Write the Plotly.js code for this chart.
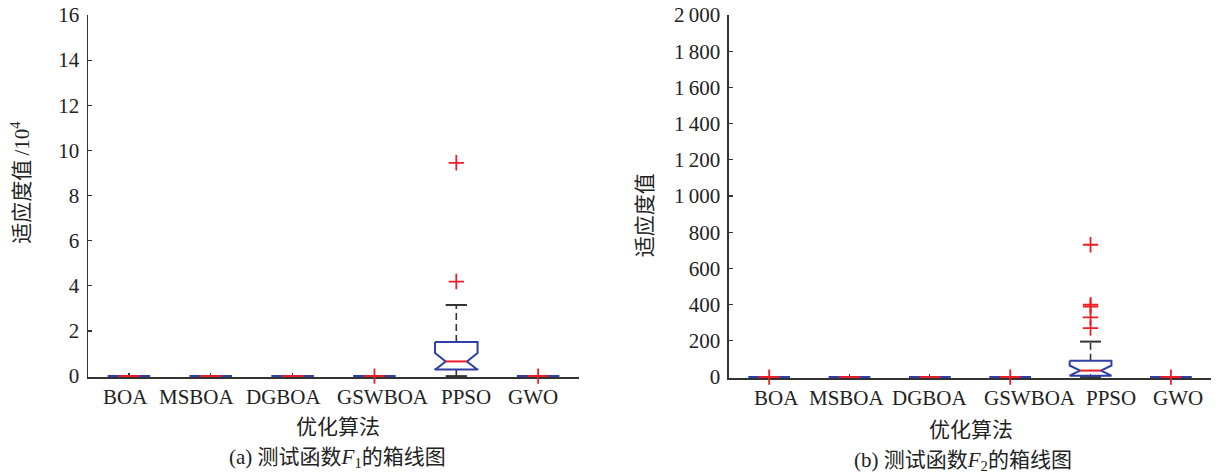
<!DOCTYPE html>
<html>
<head>
<meta charset="utf-8">
<script src="https://cdn.plot.ly/plotly-3.0.1.min.js"></script>
<style>html,body{margin:0;padding:0;background:#fff;}#chart{width:1231px;height:474px;}</style>
</head>
<body>
<div id="chart"></div>
<script>
// ---------- data ----------
const categories = ['BOA', 'MSBOA', 'DGBOA', 'GSWBOA', 'PPSO', 'GWO'];

// (a) F1, unit 10^4
const f1Q1     = [0, 0, 0, 0, 0.29, 0];
const f1Median = [0, 0, 0, 0, 0.65, 0];
const f1Q3     = [0, 0, 0, 0, 1.51, 0];
const f1Lower  = [0, 0, 0, 0, 0, 0];
const f1Upper  = [0, 0, 0, 0, 3.15, 0];
const f1Notch  = [0, 0, 0, 0, 0.37, 0];
const f1Outliers = [[], [], [], [0], [4.19, 9.45], [0]];

// (b) F2
const f2Q1     = [0, 0, 0, 0, 8, 0];
const f2Median = [0, 0, 0, 0, 36, 0];
const f2Q3     = [0, 0, 0, 0, 91, 0];
const f2Lower  = [0, 0, 0, 0, 0, 0];
const f2Upper  = [0, 0, 0, 0, 196, 0];
const f2Notch  = [0, 0, 0, 0, 28, 0];
const f2Outliers = [[0], [], [], [0], [271, 330, 390, 400, 731], [0]];

const f1Ticks = [0, 2, 4, 6, 8, 10, 12, 14, 16];
const f2Ticks = [0, 200, 400, 600, 800, 1000, 1200, 1400, 1600, 1800, 2000];

// ---------- style ----------
const BLUE = '#2f3fa6', RED = '#ee1c25', BLACK = '#333333';
const HW = 0.26, NW = 0.13, CW = 0.13;
const FONT = 'Liberation Serif, Times New Roman, Noto Sans CJK SC, serif';
const FS = 21;
// pixel nudges of the category labels, as typeset in the source figure
const f1LabelShift = [-3, -14, -9, 9, 10, -5];
const f2LabelShift = [7, -3, 0, 20, 20, 7];

function boxTraces(q1, med, q3, lo, up, notch, outl, xa, ya) {
  const tr = [];
  const wx = [], wy = [], cx = [], cy = [], bx = [], by = [], mx = [], my = [], ox = [], oy = [];
  categories.forEach((c, i) => {
    const x = i + 1;
    wx.push(x, x, null, x, x, null);
    wy.push(q3[i], up[i], null, q1[i], lo[i], null);
    cx.push(x - CW, x + CW, null, x - CW, x + CW, null);
    cy.push(up[i], up[i], null, lo[i], lo[i], null);
    const m = med[i], n = notch[i];
    bx.push(x - HW, x + HW, x + HW, x + NW, x + HW, x + HW, x - HW, x - HW, x - NW, x - HW, x - HW, null);
    by.push(q3[i], q3[i], m + n, m, m - n, q1[i], q1[i], m - n, m, m + n, q3[i], null);
    mx.push(x - NW, x + NW, null);
    my.push(m, m, null);
    outl[i].forEach(v => { ox.push(x); oy.push(v); });
  });
  tr.push({type: 'scatter', mode: 'lines', x: wx, y: wy, xaxis: xa, yaxis: ya,
           line: {color: BLACK, width: 1.6, dash: '7px,4px'}, hoverinfo: 'skip', showlegend: false});
  tr.push({type: 'scatter', mode: 'lines', x: cx, y: cy, xaxis: xa, yaxis: ya,
           line: {color: BLACK, width: 2}, hoverinfo: 'skip', showlegend: false});
  tr.push({type: 'scatter', mode: 'lines', x: bx, y: by, xaxis: xa, yaxis: ya,
           line: {color: BLUE, width: 2}, hoverinfo: 'skip', showlegend: false});
  tr.push({type: 'scatter', mode: 'lines', x: mx, y: my, xaxis: xa, yaxis: ya,
           line: {color: RED, width: 2}, hoverinfo: 'skip', showlegend: false});
  tr.push({type: 'scatter', mode: 'markers', x: ox, y: oy, xaxis: xa, yaxis: ya, cliponaxis: false,
           marker: {symbol: 'cross-thin', size: 11, color: RED, line: {color: RED, width: 1.8}},
           hoverinfo: 'skip', showlegend: false});
  return tr;
}

function catLabels(xref, yref, shifts) {
  return categories.map((c, i) => ({
    text: c, xref: xref, yref: yref + ' domain', x: i + 1, y: 0,
    xanchor: 'center', yanchor: 'middle', xshift: shifts[i], yshift: -20,
    showarrow: false, font: {family: FONT, size: FS, color: '#222'}
  }));
}

const data = [].concat(
  boxTraces(f1Q1, f1Median, f1Q3, f1Lower, f1Upper, f1Notch, f1Outliers, 'x', 'y'),
  boxTraces(f2Q1, f2Median, f2Q3, f2Lower, f2Upper, f2Notch, f2Outliers, 'x2', 'y2')
);

const xCommon = {
  range: [0.5, 6.5], tickmode: 'array', tickvals: [1, 2, 3, 4, 5, 6], showticklabels: false,
  ticks: 'inside', ticklen: 4, tickwidth: 1.2, tickcolor: BLACK,
  showline: true, linecolor: BLACK, linewidth: 1.5, mirror: false,
  showgrid: false, zeroline: false, layer: 'below traces', fixedrange: true
};
const yCommon = {
  ticks: 'inside', ticklen: 4, tickwidth: 1.2, tickcolor: BLACK, tickmode: 'array',
  showline: true, linecolor: BLACK, linewidth: 1.5, mirror: false,
  showgrid: false, zeroline: false, layer: 'below traces', ticklabelstandoff: 3,
  tickfont: {family: FONT, size: FS, color: '#222'}, fixedrange: true
};

const layout = {
  width: 1231, height: 474,
  margin: {l: 0, r: 0, t: 0, b: 0},
  paper_bgcolor: '#fff', plot_bgcolor: '#fff',
  showlegend: false,
  separators: '.\u2009',
  font: {family: FONT, size: FS, color: '#222'},
  xaxis: Object.assign({}, xCommon, {domain: [0.0715, 0.4704], anchor: 'y'}),
  yaxis: Object.assign({}, yCommon, {domain: [0.2046, 0.9684], anchor: 'x', range: [-0.04, 16],
                                     tickvals: f1Ticks}),
  xaxis2: Object.assign({}, xCommon, {domain: [0.5922, 0.9838], anchor: 'y2'}),
  yaxis2: Object.assign({}, yCommon, {domain: [0.2025, 0.9684], anchor: 'x2', range: [-5, 2000],
                                      tickvals: f2Ticks, tickformat: ',d', separatethousands: true}),
  annotations: [
    {text: '适应度值\u2009/10<sup>4</sup>', xref: 'paper', yref: 'paper', x: 0.0165, y: 0.615,
     textangle: -90, showarrow: false, xanchor: 'center', yanchor: 'middle', font: {size: FS}},
    {text: '适应度值', xref: 'paper', yref: 'paper', x: 0.524, y: 0.546,
     textangle: -90, showarrow: false, xanchor: 'center', yanchor: 'middle', font: {size: FS}},
    {text: '优化算法', xref: 'paper', yref: 'paper', x: 0.2746, y: 1 - 427 / 474,
     showarrow: false, xanchor: 'center', yanchor: 'middle', font: {size: FS}},
    {text: '优化算法', xref: 'paper', yref: 'paper', x: 0.7886, y: 1 - 430 / 474,
     showarrow: false, xanchor: 'center', yanchor: 'middle', font: {size: FS}},
    {text: '(a) 测试函数<i>F</i><sub>1</sub>的箱线图', xref: 'paper', yref: 'paper', x: 0.2738, y: 1 - 458 / 474,
     showarrow: false, xanchor: 'center', yanchor: 'middle', font: {size: FS}},
    {text: '(b) 测试函数<i>F</i><sub>2</sub>的箱线图', xref: 'paper', yref: 'paper', x: 0.782, y: 1 - 461 / 474,
     showarrow: false, xanchor: 'center', yanchor: 'middle', font: {size: FS}}
  ].concat(catLabels('x', 'y', f1LabelShift), catLabels('x2', 'y2', f2LabelShift))
};

Plotly.newPlot('chart', data, layout, {staticPlot: true, displayModeBar: false});
</script>
</body>
</html>
